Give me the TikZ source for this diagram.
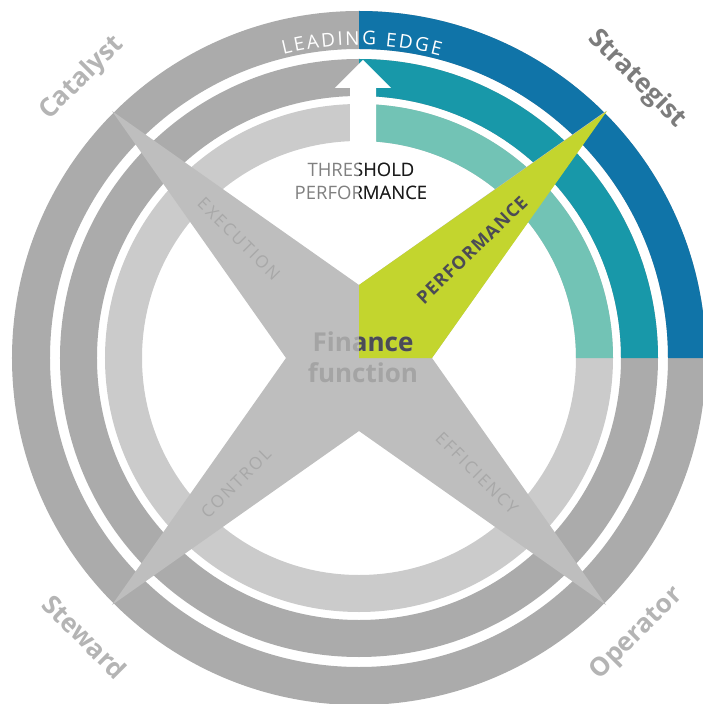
\documentclass[tikz,border=0pt]{standalone}
\usepackage{fontspec}
\setmainfont{Open Sans}
\newfontfamily\trackfont[LetterSpace=12]{Open Sans}
\newfontfamily\trackbold[LetterSpace=6]{Open Sans}
\usetikzlibrary{decorations.text}
\definecolor{ringgray}{HTML}{ABABAB}
\definecolor{innergray}{HTML}{CBCBCB}
\definecolor{stargray}{HTML}{BEBEBE}
\definecolor{leadblue}{HTML}{1074A8}
\definecolor{leadteal}{HTML}{1898A9}
\definecolor{mint}{HTML}{72C3B5}
\definecolor{lime}{HTML}{C3D52E}
\definecolor{darktext}{HTML}{4B4B55}
\definecolor{armtext}{HTML}{A8A8A8}
\definecolor{fingray}{HTML}{A4A4A4}
\definecolor{cornertext}{HTML}{B4B4B4}
\definecolor{strattext}{HTML}{7C7C7C}
\definecolor{threshgray}{HTML}{808080}
\definecolor{threshdark}{HTML}{1A1A1A}
\tikzset{
  armlabel/.style={text=armtext, font=\trackfont\fontsize{17}{17}\selectfont, inner sep=0pt},
  threshline/.style={anchor=base, font=\fontsize{18.5}{18.5}\selectfont, inner sep=0pt},
  finline/.style={anchor=base, font=\bfseries\fontsize{26}{26}\selectfont, inner sep=0pt},
  cornerlabel/.style={font=\bfseries\fontsize{26}{26}\selectfont, inner sep=0pt},
}
\begin{document}
\begin{tikzpicture}[x=1pt,y=1pt]
\useasboundingbox (-359,-346) rectangle (344,358);
% rings
\fill[ringgray,even odd rule] (0,0) circle[radius=347pt] (0,0) circle[radius=309pt];
\fill[leadblue] (0:309pt) arc[start angle=0,end angle=90,radius=309pt] -- (90:347pt) arc[start angle=90,end angle=0,radius=347pt] -- cycle;
\fill[ringgray,even odd rule] (0,0) circle[radius=299pt] (0,0) circle[radius=262pt];
\fill[leadteal] (0:262pt) arc[start angle=0,end angle=90,radius=262pt] -- (90:299pt) arc[start angle=90,end angle=0,radius=299pt] -- cycle;
\fill[innergray,even odd rule] (0,0) circle[radius=254pt] (0,0) circle[radius=217pt];
\fill[mint] (0:217pt) arc[start angle=0,end angle=90,radius=217pt] -- (90:254pt) arc[start angle=90,end angle=0,radius=254pt] -- cycle;
% arrow
\fill[white] (-9,205) -- (-9,270) -- (-24,270) -- (4,298) -- (32,270) -- (17,270) -- (17,205) -- cycle;
% star
\fill[stargray] (0,73) -- (247,247) -- (73,0) -- (247,-247) -- (0,-73) -- (-247,-247) -- (-73,0) -- (-247,247) -- cycle;
\fill[lime] (0,0) -- (0,73) -- (248,247) -- (73,0) -- cycle;
% threshold
\node[threshline, text=threshgray] (th1) at (2,181) {THRESHOLD};
\node[threshline, text=threshgray] (th2) at (2,158) {PERFORMANCE};
\begin{scope}
\clip (0,140) rectangle (120,200);
\node[threshline, text=threshdark] (th1d) at (2,181) {THRESHOLD};
\node[threshline, text=threshdark] (th2d) at (2,158) {PERFORMANCE};
\end{scope}
% finance function
\node[finline, text=fingray] (fin1) at (4,6) {Finance};
\node[finline, text=fingray] (fin2) at (4,-24) {function};
\begin{scope}
\clip (0,0) rectangle (120,60);
\node[finline, text=darktext] (fin1d) at (4,6) {Finance};
\end{scope}
% arm labels
\node[armlabel, rotate=-45] (exe) at (-120,119) {EXECUTION};
\node[armlabel, rotate=45] (ctl) at (-123,-125) {CONTROL};
\node[armlabel, rotate=-45] (eff) at (118,-115) {EFFICIENCY};
\node[inner sep=0pt, rotate=44, text=darktext, font=\trackbold\bfseries\fontsize{18}{18}\selectfont] (perf) at (113,108) {PERFORMANCE};
% leading edge
\path[decorate, decoration={text along path, text align=fit to path, text color=white,
  text={|\fontsize{19}{19}\selectfont|LEADING EDGE}}]
  (104:313pt) arc[start angle=104,end angle=75,radius=313pt];
% corner labels
\node[cornerlabel, text=cornertext, rotate=45] (cat) at (-277,280) {Catalyst};
\node[cornerlabel, text=strattext, rotate=-45] (str) at (278,279) {Strategist};
\node[cornerlabel, text=cornertext, rotate=-45] (stw) at (-274,-279) {Steward};
\node[cornerlabel, text=cornertext, rotate=45] (opr) at (278,-276) {Operator};
\end{tikzpicture}
\end{document}
